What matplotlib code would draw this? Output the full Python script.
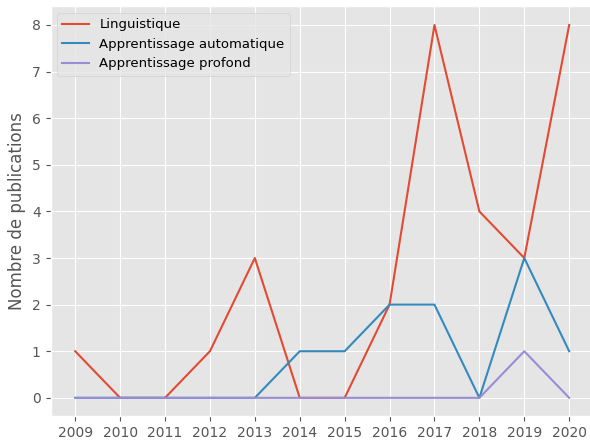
import matplotlib
matplotlib.use('Agg')
import matplotlib.pyplot as plt

plt.style.use('ggplot')

years = [2009, 2010, 2011, 2012, 2013, 2014, 2015, 2016, 2017, 2018, 2019, 2020]
linguistique = [1, 0, 0, 1, 3, 0, 0, 2, 8, 4, 3, 8]
apprentissage_auto = [0, 0, 0, 0, 0, 1, 1, 2, 2, 0, 3, 1]
apprentissage_profond = [0, 0, 0, 0, 0, 0, 0, 0, 0, 0, 1, 0]

fig = plt.figure(figsize=(5.9, 4.41), dpi=100)
# axes run slightly past the right edge, as in the cropped original
ax = fig.add_axes([0.0856, 0.0556, 0.921, 0.930])

ax.plot(years, linguistique, label='Linguistique')
ax.plot(years, apprentissage_auto, label='Apprentissage automatique')
ax.plot(years, apprentissage_profond, label='Apprentissage profond')

ax.set_xticks(years)
ax.set_ylabel('Nombre de publications')
ax.legend(loc='upper left', fontsize=9.5)

fig.savefig('out.png', dpi=100)
